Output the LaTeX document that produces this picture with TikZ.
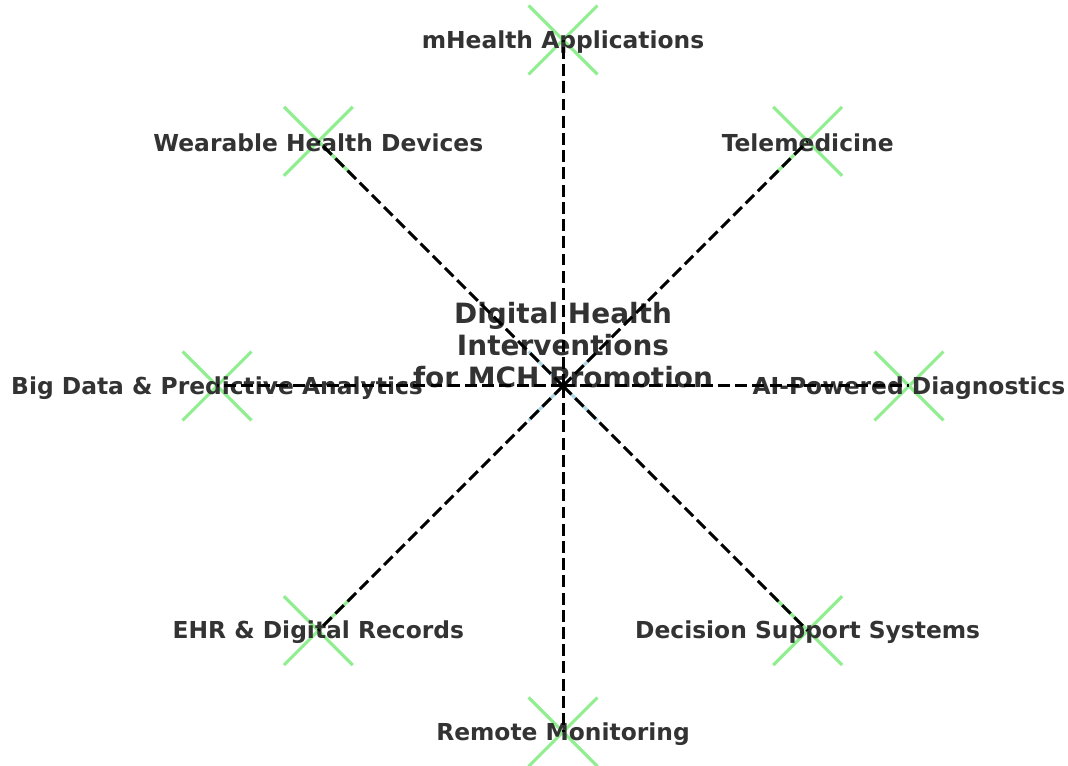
\documentclass[tikz,border=0pt]{standalone}
\usepackage{fontspec}
\setmainfont{DejaVu Sans}
\usetikzlibrary{shapes.misc}
\definecolor{txtgray}{HTML}{333333}
\definecolor{mkgreen}{HTML}{90EE90}
\definecolor{mkblue}{HTML}{ADD8E6}
\begin{document}
\begin{tikzpicture}[x=0.02cm,y=0.02cm,
  xmark/.style={cross out,draw=mkgreen,line width=1.8pt,minimum size=37.4pt,inner sep=0pt},
  lbl/.style={text=txtgray,font=\fontsize{13.3}{16}\selectfont\bfseries},
  edge/.style={line width=1.7pt,dash pattern=on 6.8pt off 3pt}]
\useasboundingbox (0,0) rectangle (1068,766);
\coordinate (hub) at (563,380);
\node[xmark,draw=mkblue] at (hub) {};
\node[lbl,align=center,font=\fontsize{15.9}{18.1}\selectfont\bfseries] (title) at (563,421)
  {Digital Health\\Interventions\\for MCH Promotion};
% spokes round the hub
\foreach \a/\t [count=\i] in {90/mHealth Applications,45/Telemedicine,0/AI-Powered Diagnostics,
  -45/Decision Support Systems,-90/Remote Monitoring,-135/EHR \& Digital Records,
  180/Big Data \& Predictive Analytics,135/Wearable Health Devices}{
  \path (hub) ++(\a:346) coordinate (n\i);
  \node[xmark] (m\i) at (n\i) {};
  \node[lbl,yshift=-1pt] (t\i) at (n\i) {\t};
  \draw[edge] (hub) -- (n\i);
}
\end{tikzpicture}
\end{document}
